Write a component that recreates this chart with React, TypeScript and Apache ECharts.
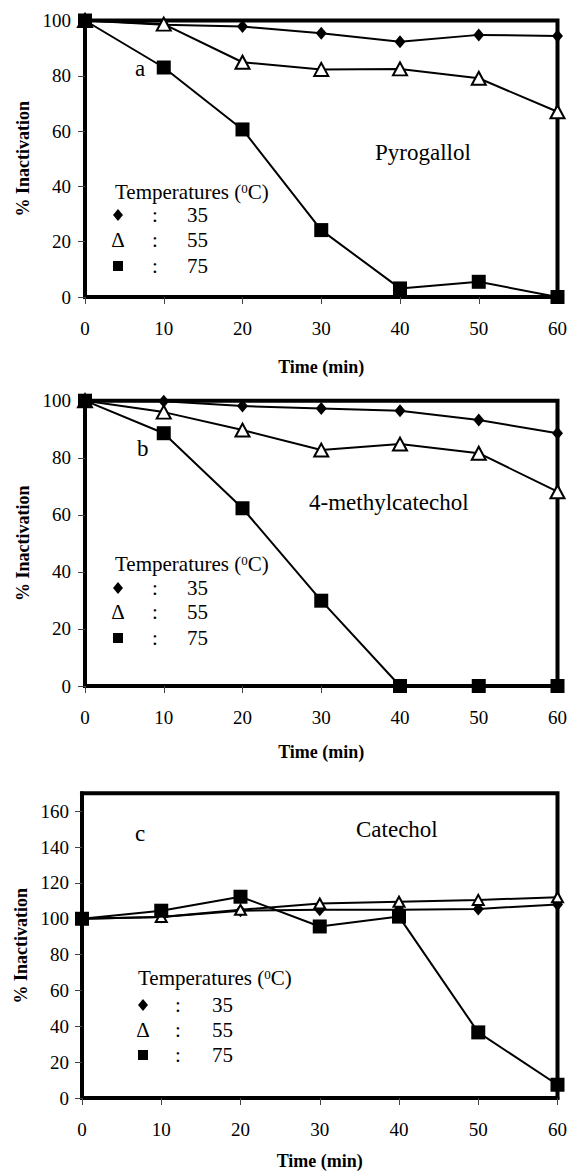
import React, { useEffect, useRef } from "react";
import * as echarts from "echarts";

const times = [0, 10, 20, 30, 40, 50, 60];
const tempLabels = ["35", "55", "75"];

const pyro35 = [100, 98.5, 97.8, 95.4, 92.3, 94.8, 94.4];
const pyro55 = [100, 98.7, 84.9, 82.3, 82.5, 79.1, 67];
const pyro75 = [100, 83, 60.6, 24.2, 3.1, 5.5, 0];

const meth35 = [100, 99.8, 98.1, 97.3, 96.5, 93.2, 88.6];
const meth55 = [100, 96, 89.7, 82.7, 84.8, 81.6, 68.1];
const meth75 = [100, 88.6, 62.3, 29.9, 0, 0, 0];

const cat35 = [100, 101, 104.5, 105, 105, 105.5, 108];
const cat55 = [100, 101, 105, 108.5, 109.5, 110.5, 112];
const cat75 = [100, 104.5, 112.3, 95.7, 101.2, 36.6, 7.4];

const panelLetters = ["a", "b", "c"];
const substrates = ["Pyrogallol", "4-methylcatechol", "Catechol"];

const serif = "Liberation Serif";

function xAxis(gridIndex: number, nameGap: number) {
  return {
    type: "value",
    gridIndex,
    min: 0,
    max: 60,
    interval: 10,
    name: "Time (min)",
    nameLocation: "middle",
    nameGap,
    nameTextStyle: { fontFamily: serif, fontWeight: "bold", fontSize: 18, color: "#000" },
    axisLine: { show: true, onZero: false, lineStyle: { color: "#000", width: 4 } },
    axisTick: { show: true, length: 7, lineStyle: { color: "#444", width: 1 } },
    axisLabel: { fontFamily: serif, fontSize: 19, color: "#000", margin: 22 },
    splitLine: { show: false },
  };
}

function yAxis(gridIndex: number, max: number, nameGap: number, margin: number) {
  return {
    type: "value",
    gridIndex,
    min: 0,
    max,
    interval: 20,
    name: "% Inactivation",
    nameLocation: "middle",
    nameGap,
    nameTextStyle: { fontFamily: serif, fontWeight: "bold", fontSize: 18, color: "#000" },
    axisLine: { show: true, onZero: false, lineStyle: { color: "#000", width: 4 } },
    axisTick: { show: true, length: 7, lineStyle: { color: "#444", width: 1 } },
    axisLabel: { fontFamily: serif, fontSize: 19, color: "#000", margin },
    splitLine: { show: false },
  };
}

function series(idx: number, values: number[], kind: number, triSize: number) {
  const data = times.map((t, i) => [t, values[i]]);
  const base: any = {
    type: "line",
    xAxisIndex: idx,
    yAxisIndex: idx,
    data,
    clip: false,
    lineStyle: { color: "#000", width: 2 },
  };
  if (kind === 0) {
    return { ...base, symbol: "diamond", symbolSize: [11, 13], itemStyle: { color: "#000", borderWidth: 0 }, z: 3 };
  }
  if (kind === 1) {
    return {
      ...base,
      symbol: "triangle",
      symbolSize: [triSize, triSize - 1],
      itemStyle: { color: "#fff", borderColor: "#000", borderWidth: 2 },
      z: 4,
    };
  }
  return { ...base, symbol: "rect", symbolSize: 14, itemStyle: { color: "#000", borderWidth: 0 }, z: 5 };
}

function txt(x: number, y: number, text: string, fontSize: number, extra: any = {}) {
  return {
    type: "text",
    x,
    y,
    z: 10,
    style: {
      text,
      fontFamily: serif,
      fontSize,
      fill: "#000",
      align: "left",
      textAlign: "left",
      verticalAlign: "middle",
      textVerticalAlign: "middle",
      ...extra,
    },
  };
}

function legend(titleX: number, titleY: number, rows: number[], symX: number, colonX: number, valX: number) {
  const els: any[] = [];
  els.push(
    txt(titleX, titleY, "Temperatures ({sup|0}C)", 21, {
      rich: {
        sup: { fontFamily: serif, fontSize: 13, verticalAlign: "top", fill: "#000" },
      },
    })
  );
  els.push({
    type: "polygon",
    z: 10,
    shape: { points: [[symX, rows[0] - 6], [symX + 5, rows[0]], [symX, rows[0] + 6], [symX - 5, rows[0]]] },
    style: { fill: "#000" },
  });
  els.push(txt(symX, rows[1], "\u0394", 21, { align: "center", textAlign: "center" }));
  els.push({
    type: "rect",
    z: 10,
    shape: { x: symX - 5, y: rows[2] - 5, width: 10, height: 10 },
    style: { fill: "#000" },
  });
  rows.forEach((ry, i) => {
    els.push(txt(colonX, ry, ":", 21, { align: "center", textAlign: "center" }));
    els.push(txt(valX, ry, tempLabels[i], 21));
  });
  return els;
}

export default function App() {
  const ref = useRef<HTMLDivElement>(null);
  useEffect(() => {
    if (!ref.current) return;
    const chart = echarts.init(ref.current, null, { renderer: "svg" });
    const gridStyle = { show: true, borderColor: "#000", borderWidth: 4, backgroundColor: "transparent" };
    const option: any = {
      animation: false,
      backgroundColor: "#fff",
      textStyle: { fontFamily: serif },
      grid: [
        { ...gridStyle, left: 85, top: 20.5, width: 473, height: 276.5 },
        { ...gridStyle, left: 85, top: 400.7, width: 473, height: 285.3 },
        { ...gridStyle, left: 82, top: 793.3, width: 480, height: 306 },
      ],
      xAxis: [xAxis(0, 61), xAxis(1, 57), xAxis(2, 54)],
      yAxis: [yAxis(0, 100, 52, 14), yAxis(1, 100, 52, 14), yAxis(2, 170, 50, 13)],
      series: [
        series(0, pyro35, 0, 14),
        series(0, pyro55, 1, 14),
        series(0, pyro75, 2, 14),
        series(1, meth35, 0, 14),
        series(1, meth55, 1, 14),
        series(1, meth75, 2, 14),
        series(2, cat35, 0, 11),
        series(2, cat55, 1, 11),
        series(2, cat75, 2, 11),
      ],
      graphic: [
        txt(135, 68, panelLetters[0], 23),
        txt(375, 152, substrates[0], 23),
        ...legend(115, 192, [215, 240, 266], 118, 155, 187),
        txt(137, 448, panelLetters[1], 23),
        txt(309, 502, substrates[1], 23),
        ...legend(115, 564, [588, 612, 638], 118, 155, 187),
        txt(135, 833, panelLetters[2], 23),
        txt(356, 829, substrates[2], 23),
        ...legend(138, 978, [1005, 1030, 1055], 143, 178, 212),
      ],
    };
    chart.setOption(option);
    return () => chart.dispose();
  }, []);
  return (
    <div
      ref={ref}
      style={{ position: "absolute", left: 0, top: 0, width: 570, height: 1171 }}
    />
  );
}
